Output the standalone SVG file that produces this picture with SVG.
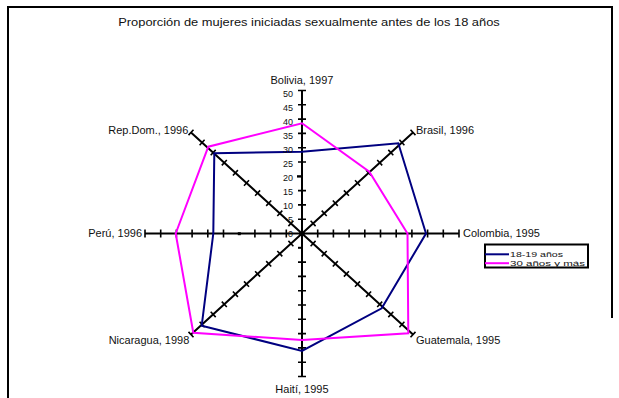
<svg xmlns="http://www.w3.org/2000/svg" width="619" height="398" viewBox="0 0 619 398">
<style>
.frame{fill:none;stroke:#000;stroke-width:2}
.axis{fill:none;stroke:#000;stroke-width:2}
.tick{fill:none;stroke:#000;stroke-width:1.6}
.s1{fill:none;stroke:#000080;stroke-width:2;stroke-linejoin:miter}
.s2{fill:none;stroke:#FF00FF;stroke-width:2;stroke-linejoin:miter}
.lbl{font-family:"Liberation Sans",Arial,sans-serif;font-size:10px;fill:#111}
.leg{font-family:"Liberation Sans",Arial,sans-serif;font-size:7.8px;fill:#111}
.num{font-family:"Liberation Sans",Arial,sans-serif;font-size:9px;fill:#111;text-anchor:end}
.title{font-family:"Liberation Sans",Arial,sans-serif;font-size:11.7px;fill:#111;text-anchor:middle}
</style>
<rect width="619" height="398" fill="#fff"/>
<path class="frame" d="M8 398V7H612V318"/>
<g id="title" transform="scale(1.1 1)">
<text class="title" x="280.9" y="26">Proporción de mujeres iniciadas sexualmente antes de los 18 años</text>
</g>
<g id="connectors">
<g id="axes">
<path class="axis" d="M302 90.5V376.5M145 233.5H459M191 132.4L413 334.6M191 334.6L413 132.4"/>
<path class="tick" d="M298 219.2h8M298 204.9h8M298 190.6h8M298 162h8M298 147.7h8M298 133.4h8M298 119.1h8M298 104.8h8M298 90.5h8
M298 262.1h8M298 276.4h8M298 290.7h8M298 305h8M298 319.3h8M298 333.6h8M298 347.9h8M298 362.2h8M298 376.5h8
M317.7 229.5v8M333.4 229.5v8M349.1 229.5v8M364.8 229.5v8M380.5 229.5v8M396.2 229.5v8M411.9 229.5v8M427.6 229.5v8M443.3 229.5v8M459 229.5v8
M286.3 229.5v8M270.6 229.5v8M254.9 229.5v8M223.5 229.5v8M207.8 229.5v8M192.1 229.5v8M176.4 229.5v8M160.7 229.5v8M145 229.5v8
M310.6 220.7l5 5.4M321.7 210.6l5 5.4M332.8 200.5l5 5.4M343.9 190.4l5 5.4M355 180.3l5 5.4M366.1 170.1l5 5.4M377.2 160l5 5.4M388.3 149.9l5 5.4M399.4 139.8l5 5.4M410.5 129.7l5 5.4
M310.6 246.3l5 -5.4M321.7 256.4l5 -5.4M332.8 266.5l5 -5.4M343.9 276.6l5 -5.4M355 286.8l5 -5.4M366.1 296.9l5 -5.4M377.2 307l5 -5.4M388.3 317.1l5 -5.4M399.4 327.2l5 -5.4M410.5 337.3l5 -5.4
M288.4 240.9l5 5.4M277.3 251l5 5.4M266.2 261.1l5 5.4M255.1 271.2l5 5.4M244 281.4l5 5.4M232.9 291.5l5 5.4M221.8 301.6l5 5.4M210.7 311.7l5 5.4M199.6 321.8l5 5.4M188.5 331.9l5 5.4
M288.4 226.1l5 -5.4M277.3 216l5 -5.4M266.2 205.9l5 -5.4M255.1 195.8l5 -5.4M244 185.7l5 -5.4M232.9 175.5l5 -5.4M221.8 165.4l5 -5.4M210.7 155.3l5 -5.4M199.6 145.2l5 -5.4M188.5 135.1l5 -5.4"/>
<rect x="297" y="175.2" width="4" height="2.4" fill="#000"/>
<rect x="237.8" y="232.2" width="3" height="3" fill="#000"/>
<rect x="298" y="246.8" width="4" height="2" fill="#000"/>
</g>
<polygon id="serie-18-19" class="s1" points="302,151.7 398.3,143.3 426,233.5 381.7,308.3 302,351 201.7,325.7 213.3,233.5 214.3,153.3"/>
<polygon id="serie-30" class="s2" points="302,123.3 369.3,171.7 407.5,233.5 408.3,333.3 302,340 193.3,332.7 175.7,233.5 208.3,146.7"/>
</g>
<g id="scale-labels">
<text class="num" x="293" y="96.5">50</text>
<text class="num" x="293" y="110.6">45</text>
<text class="num" x="293" y="124.6">40</text>
<text class="num" x="293" y="138.7">35</text>
<text class="num" x="293" y="152.8">30</text>
<text class="num" x="293" y="166.9">25</text>
<text class="num" x="293" y="180.9">20</text>
<text class="num" x="293" y="195">15</text>
<text class="num" x="293" y="209.1">10</text>
<text class="num" x="293" y="223.1">5</text>
<text class="num" x="293" y="237.2">0</text>
</g>
<g id="category-labels" transform="scale(1.1 1)">
<text id="lbl-bolivia" class="lbl" x="274.5" y="84" text-anchor="middle">Bolivia, 1997</text>
<text id="lbl-brasil" class="lbl" x="378.2" y="134">Brasil, 1996</text>
<text id="lbl-colombia" class="lbl" x="420.9" y="237.5">Colombia, 1995</text>
<text id="lbl-guatemala" class="lbl" x="378.2" y="344">Guatemala, 1995</text>
<text id="lbl-haiti" class="lbl" x="274.5" y="393" text-anchor="middle">Haití, 1995</text>
<text id="lbl-nicaragua" class="lbl" x="172.1" y="344" text-anchor="end">Nicaragua, 1998</text>
<text id="lbl-peru" class="lbl" x="129.1" y="237.5" text-anchor="end">Perú, 1996</text>
<text id="lbl-repdom" class="lbl" x="171.2" y="134" text-anchor="end">Rep.Dom., 1996</text>
</g>
<g id="legend">
<rect x="485" y="244.5" width="103" height="23" fill="#fff" stroke="#000" stroke-width="2"/>
<line x1="485" y1="254.3" x2="509" y2="254.3" stroke="#000080" stroke-width="2"/>
<line x1="485" y1="263.2" x2="509" y2="263.2" stroke="#FF00FF" stroke-width="2"/>
<text class="leg" x="510" y="256.8" textLength="53" lengthAdjust="spacingAndGlyphs">18-19 años</text>
<text class="leg" x="510" y="266" textLength="75" lengthAdjust="spacingAndGlyphs">30 años y más</text>
</g>
</svg>
